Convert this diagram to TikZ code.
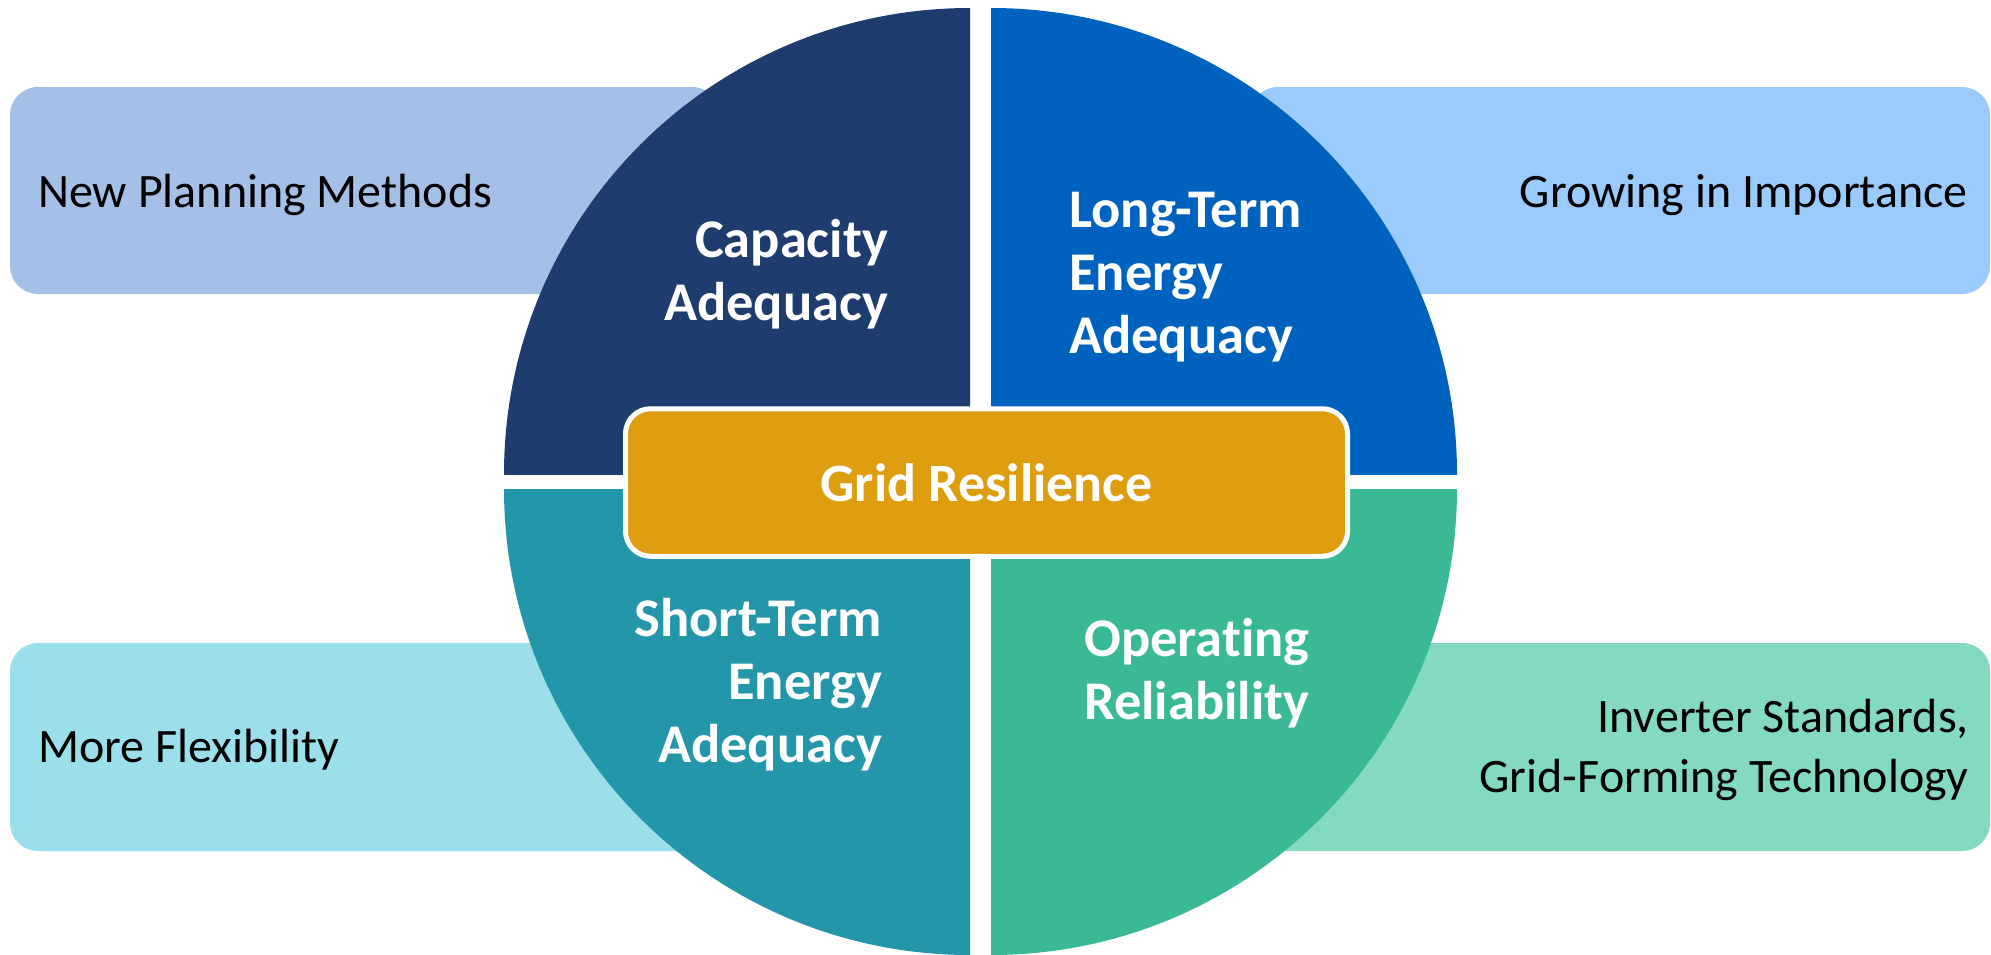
\documentclass[tikz,border=0pt]{standalone}
\usepackage{fontspec}
\setmainfont{Carlito}[Ligatures=NoCommon]
\definecolor{qTL}{RGB}{30,60,110}
\definecolor{qTR}{RGB}{0,98,191}
\definecolor{qBL}{RGB}{35,150,169}
\definecolor{qBR}{RGB}{58,185,151}
\definecolor{gold}{RGB}{222,157,15}
\definecolor{bandTL}{RGB}{165,192,230}
\definecolor{bandTR}{RGB}{155,203,253}
\definecolor{bandBL}{RGB}{154,223,234}
\definecolor{bandBR}{RGB}{132,217,193}
\begin{document}
\begin{tikzpicture}[x=1pt,y=-1pt,
  band/.style={rounded corners=28pt},
  bandtext/.style={font=\fontsize{48}{60}\selectfont, text=black, inner sep=0pt},
  quadtext/.style={font=\fontsize{54.5}{63}\selectfont\bfseries, text=white, inner sep=0pt},
  corebox/.style={draw=white, line width=5pt, fill=gold, rounded corners=25pt,
    minimum width=722pt, minimum height=147.5pt, inner sep=0pt,
    font=\fontsize{54}{63}\selectfont\bfseries, text=white}]
\useasboundingbox (0,0) rectangle (1991,954);

% side bands, partly hidden behind the wheel
\fill[band, bandTL] (10,87) rectangle (720,294);
\fill[band, bandTR] (1250,87) rectangle (1990,294);
\fill[band, bandBL] (10,643) rectangle (720,851);
\fill[band, bandBR] (1250,643) rectangle (1990,851);

% four quarters of the wheel
\begin{scope}
  \clip (970,474) rectangle (400,0);
  \fill[qTL] (970,474) circle[radius=466pt];
\end{scope}
\begin{scope}
  \clip (991,474) rectangle (1600,0);
  \fill[qTR] (991,474) circle[radius=466pt];
\end{scope}
\begin{scope}
  \clip (970,489) rectangle (400,1000);
  \fill[qBL] (970,489) circle[radius=466pt];
\end{scope}
\begin{scope}
  \clip (991,489) rectangle (1600,1000);
  \fill[qBR] (991,489) circle[radius=466pt];
\end{scope}

% centre box
\node[corebox] (core) at (986.5,482.5) {Grid Resilience};

% quarter labels
\node[quadtext, anchor=base east] (cap) at (888,257)
  {\begin{tabular}[t]{@{}r@{}}Capacity\\Adequacy\end{tabular}};
\node[quadtext, anchor=base west] (lte) at (1069,227)
  {\begin{tabular}[t]{@{}l@{}}Long-Term\\Energy\\Adequacy\end{tabular}};
\node[quadtext, anchor=base east] (ste) at (882,636)
  {\begin{tabular}[t]{@{}r@{}}Short-Term\\Energy\\Adequacy\end{tabular}};
\node[quadtext, anchor=base west] (opr) at (1084,656)
  {\begin{tabular}[t]{@{}l@{}}Operating\\Reliability\end{tabular}};

% band labels
\node[bandtext, anchor=base west] (npm) at (38,207) {New Planning Methods};
\node[bandtext, anchor=base east] (gii) at (1968,207) {Growing in Importance};
\node[bandtext, anchor=base west] (mfl) at (38,762) {More Flexibility};
\node[bandtext, anchor=base east] (inv) at (1969,732)
  {\begin{tabular}[t]{@{}r@{}}Inverter Standards,\\Grid-Forming Technology\end{tabular}};
\end{tikzpicture}
\end{document}
